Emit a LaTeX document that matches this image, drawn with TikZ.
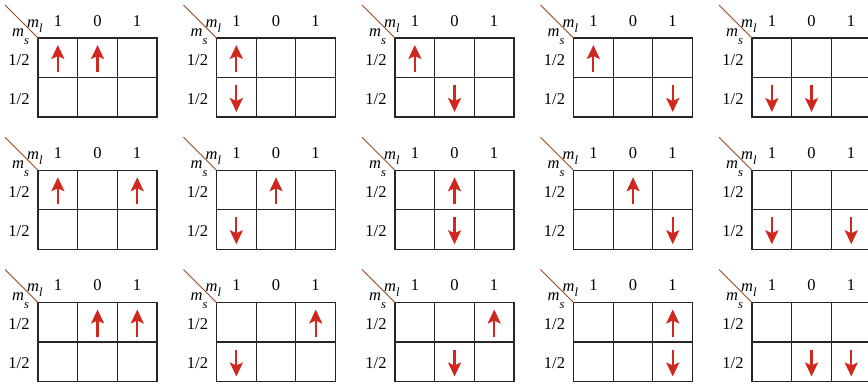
\documentclass[tikz,border=0pt]{standalone}
\usepackage{fontspec}
\setmainfont{Liberation Serif}
\usetikzlibrary{arrows.meta}
\definecolor{spinred}{RGB}{208,40,30}
\definecolor{diagbrown}{RGB}{150,75,30}

\begin{document}
\begin{tikzpicture}[x=1pt, y=-1pt,
    gridline/.style={line width=1.3pt, draw=black!85},
    corner/.style={line width=0.9pt, draw=diagbrown},
    lbl/.style={anchor=base, inner sep=0pt, font=\fontsize{16.5}{18}\selectfont},
    spin/.style={-{Stealth[length=14pt, width=13pt, inset=3pt]},
              line width=2.2pt, draw=spinred}
]
    \useasboundingbox (0,0) rectangle (868,384);
    \clip (0,0) rectangle (868,384);
    % panel column/row, then cell (column/row) of the two electrons
    \foreach \pc/\pr/\ca/\ra/\cb/\rb [count=\n] in {
        0/0/1/1/2/1, 1/0/1/1/1/2, 2/0/1/1/2/2, 3/0/1/1/3/2, 4/0/1/2/2/2,
        0/1/1/1/3/1, 1/1/2/1/1/2, 2/1/2/1/2/2, 3/1/2/1/3/2, 4/1/1/2/3/2,
        0/2/2/1/3/1, 1/2/3/1/1/2, 2/2/3/1/2/2, 3/2/3/1/3/2, 4/2/2/2/3/2}
    {
        \pgfmathsetmacro\gx{38+178.5*\pc}
        \pgfmathsetmacro\gy{38+132.25*\pr}
        \coordinate (g\n) at (\gx,\gy);
        \coordinate (k\n) at (\gx-33,\gy-33);

        % table
        \draw[gridline] (g\n) rectangle ++(119,79);
        \draw[gridline] (\gx+39.7,\gy) -- ++(0,79)
            (\gx+79.3,\gy) -- ++(0,79)
            (\gx,\gy+39.5) -- ++(119,0);
        \draw[corner] (k\n) -- (g\n);

        % labels
        \node[lbl, anchor=base west] (ml\n) at (\gx-11,\gy-11)
            {\textit{m}\raisebox{-5pt}{\fontsize{12.5}{12}\selectfont\textit{l}}};
        \node[lbl, anchor=base west] (ms\n) at (\gx-26,\gy-2)
            {\textit{m}\raisebox{-8pt}{\fontsize{12.5}{12}\selectfont\textit{s}}};
        \node[lbl] (la\n) at (\gx+20,\gy-12) {1};
        \node[lbl] (lb\n) at (\gx+59.5,\gy-12) {0};
        \node[lbl] (lc\n) at (\gx+99,\gy-12) {1};
        \node[lbl] (up\n) at (\gx-19,\gy+27) {1/2};
        \node[lbl] (dn\n) at (\gx-19,\gy+66) {1/2};

        % electrons
        \draw[spin] (\gx+39.7*\ca-19.85,\gy+34+13*\ra-13)
            -- (\gx+39.7*\ca-19.85,\gy+7+67*\ra-67);
        \draw[spin] (\gx+39.7*\cb-19.85,\gy+34+13*\rb-13)
            -- (\gx+39.7*\cb-19.85,\gy+7+67*\rb-67);
    }
\end{tikzpicture}
\end{document}
